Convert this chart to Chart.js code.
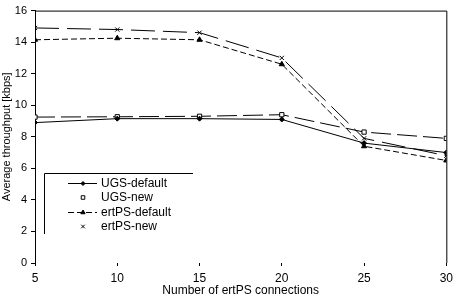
<!DOCTYPE html>
<html>
<head>
<meta charset="utf-8">
<script src="https://cdn.jsdelivr.net/npm/chart.js@4/dist/chart.umd.min.js"></script>
<style>
  html, body { margin: 0; padding: 0; background: #fff; }
  #wrap { width: 458px; height: 295px; }
</style>
</head>
<body>
<div id="wrap"><canvas id="chart" width="458" height="295"></canvas></div>
<script>
// connections on the x axis
const connections = [5, 10, 15, 20, 25, 30];

// average throughput [kbps]
const ugsDefault = [8.9, 9.15, 9.15, 9.1, 7.6, 7.0];
const ugsNew = [9.25, 9.27, 9.3, 9.4, 8.3, 7.9];
const ertpsDefault = [14.15, 14.25, 14.15, 12.6, 7.4, 6.5];
const ertpsNew = [14.9, 14.8, 14.6, 13.0, 7.9, 6.8];

const seriesNames = ["UGS-default", "UGS-new", "ertPS-default", "ertPS-new"];
const yTicks = [0, 2, 4, 6, 8, 10, 12, 14, 16];

const FONT = "Liberation Sans, Arial, sans-serif";

function points(values) {
    return connections.map((c, i) => ({ x: c, y: values[i] }));
}

// frame on top/right plus the half-open legend box inside the plot
const framePlugin = {
    id: "frame",
    afterDraw(chart) {
        const ctx = chart.ctx;
        const a = chart.chartArea;
        ctx.save();
        ctx.strokeStyle = "#000";
        ctx.lineWidth = 1;
        ctx.beginPath();
        ctx.moveTo(a.left, a.top + 0.5);
        ctx.lineTo(a.right + 0.5, a.top + 0.5);
        ctx.lineTo(a.right + 0.5, a.bottom);
        ctx.stroke();

        // legend
        const bx = 44.5, by = 173.5;
        ctx.beginPath();
        ctx.moveTo(193, by);
        ctx.lineTo(bx, by);
        ctx.lineTo(bx, 234);
        ctx.stroke();

        const rows = [183, 197, 212, 226];
        ctx.font = "12px " + FONT;
        ctx.textBaseline = "middle";
        chart.data.datasets.forEach((ds, i) => {
            const y = rows[i];
            ctx.strokeStyle = "#000";
            if (i === 0 || i === 2) {
                ctx.beginPath();
                ctx.setLineDash(i === 2 ? [6, 3] : []);
                ctx.moveTo(68, y + 0.5);
                ctx.lineTo(97, y + 0.5);
                ctx.stroke();
                ctx.setLineDash([]);
            }
            ctx.fillStyle = ds.pointBackgroundColor;
            Chart.helpers.drawPoint(ctx, {
                pointStyle: ds.pointStyle,
                radius: ds.pointRadius - 0.5,
                rotation: 0,
                borderWidth: 1
            }, 83, y + 0.5);
            ctx.fillStyle = "#000";
            ctx.fillText(ds.label, 101, y + 1);
        });
        ctx.restore();
    }
};

new Chart(document.getElementById("chart"), {
    type: "line",
    data: {
        datasets: [{
            label: seriesNames[0],
            data: points(ugsDefault),
            borderColor: "#000",
            borderWidth: 1,
            pointStyle: "rectRot",
            pointRadius: 2.5,
            pointBackgroundColor: "#000",
            pointBorderColor: "#000",
        }, {
            label: seriesNames[1],
            data: points(ugsNew),
            borderColor: "#000",
            borderWidth: 1,
            borderDash: [20, 6],
            pointStyle: "rect",
            pointRadius: 3,
            pointBackgroundColor: "#fff",
            pointBorderColor: "#000",
        }, {
            label: seriesNames[2],
            data: points(ertpsDefault),
            borderColor: "#000",
            borderWidth: 1,
            borderDash: [6, 3],
            pointStyle: "triangle",
            pointRadius: 3,
            pointBackgroundColor: "#000",
            pointBorderColor: "#000",
        }, {
            label: seriesNames[3],
            data: points(ertpsNew),
            borderColor: "#000",
            borderWidth: 1,
            borderDash: [24, 8],
            pointStyle: "crossRot",
            pointRadius: 3,
            pointBackgroundColor: "#000",
            pointBorderColor: "#000",
        }]
    },
    options: {
        responsive: false,
        animation: false,
        layout: { padding: { top: 3, right: 6, left: 0, bottom: 0 } },
        plugins: {
            legend: { display: false },
            tooltip: { enabled: false },
        },
        scales: {
            x: {
                type: "linear",
                min: 5,
                max: 30,
                afterFit: (s) => { s.height = 32; },
                afterBuildTicks: (s) => { s.ticks = connections.map(v => ({ value: v })); },
                border: { display: false },
                grid: { drawOnChartArea: false, tickLength: 3, color: "#000" },
                ticks: { color: "#000", padding: 5, font: { family: FONT, size: 12 }, maxRotation: 0 },
                title: {
                    display: true,
                    text: "Number of ertPS connections",
                    color: "#000",
                    padding: { top: 0, bottom: -3 },
                    font: { family: FONT, size: 12 }
                }
            },
            y: {
                min: 0,
                max: 16,
                afterFit: (s) => { s.width = 35; },
                afterBuildTicks: (s) => { s.ticks = yTicks.map(v => ({ value: v })); },
                border: { display: true, color: "#000", width: 1 },
                grid: { drawOnChartArea: false, tickLength: 4, color: "#000" },
                ticks: { color: "#000", padding: 4, font: { family: FONT, size: 11 } },
                title: {
                    display: true,
                    text: "Average throughput [kbps]",
                    color: "#000",
                    padding: 0,
                    font: { family: FONT, size: 11 }
                }
            }
        }
    },
    plugins: [framePlugin]
});
</script>
</body>
</html>
